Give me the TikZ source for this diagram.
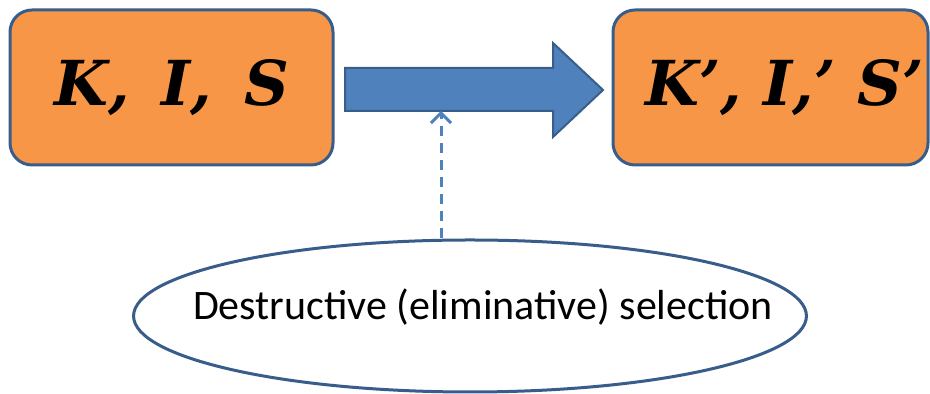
\documentclass[tikz,border=0pt]{standalone}
\usepackage{fontspec}
\setmainfont{Carlito}
\newfontfamily\statefont{DejaVu Serif}
\usetikzlibrary{arrows.meta,shapes.geometric}

\definecolor{boxorange}{HTML}{F79646}
\definecolor{edgeblue}{HTML}{385D8A}
\definecolor{arrowblue}{HTML}{4F81BD}

\tikzset{
  statebox/.style={draw=edgeblue, line width=1.5pt, fill=boxorange,
    rounded corners=11pt, minimum height=77.5pt, inner sep=0pt,
    font=\statefont\bfseries\itshape\fontsize{31}{36}\selectfont},
  selnode/.style={ellipse, draw=edgeblue, line width=1.5pt, fill=white,
    minimum height=76pt, inner xsep=-26pt, inner ysep=0pt,
    font=\fontsize{21}{25}\selectfont},
}

\begin{document}
\begin{tikzpicture}[x=0.5pt,y=0.5pt]
  \useasboundingbox (0,0) rectangle (930,394);
  \node[statebox, minimum width=161.5pt] (kis) at (171.5,306.5) {K,\, I,\, S};
  \node[statebox, minimum width=157.5pt] (kisnew) at (770.5,306.5) {\hspace*{14pt}K’,\ I,’\ S’};
  % block arrow
  \filldraw[fill=arrowblue, draw=edgeblue, line width=1pt]
    (345,283) -- (553,283) -- (553,257) -- (603,304) -- (553,351)
    -- (553,326) -- (345,326) -- cycle;
  \coordinate (shaft) at (441,283);
  \node[selnode] (sel) at (470,78)
    {\kern6.5pt\raisebox{4.5pt}[\height][\depth]{Destructive (eliminative) selection}\kern-6.5pt};
  \draw[arrowblue, line width=1.5pt, dash pattern=on 5pt off 3.5pt,
    -{Straight Barb[length=5pt,width=10pt]}] (shaft |- sel.north) -- (shaft);
\end{tikzpicture}
\end{document}
